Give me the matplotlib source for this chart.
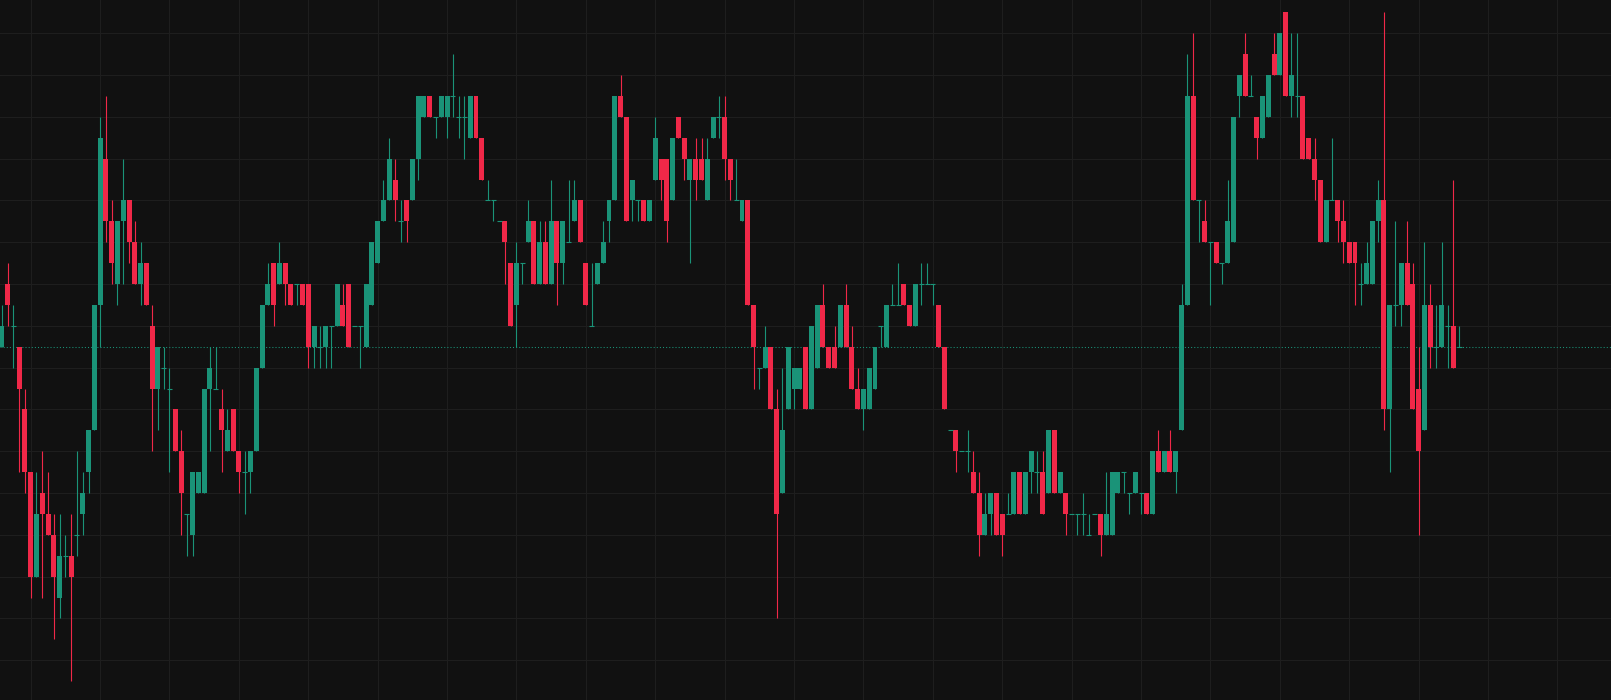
import matplotlib
matplotlib.use("Agg")
import matplotlib.pyplot as plt
import numpy as np

# candles, in price ticks (0 = the dotted last-price line)
opens = [0, 3, 1, 0, -3, -6, -11, -7, -8, -9, -12, -10, -10, -9, -8, -6, -4, 2, 9, 6,
         3, 6, 7, 5, 3, 4, 1, -2, -1, -2, -3, -5, -8, -9, -7, -7, -2, -2, -3, -5,
         -3, -5, -6, -6, -5, -1, 2, 4, 3, 4, 3, 3, 3, 3, 0, 0, 0, 1, 1, 2,
         3, 1, 1, 0, 2, 4, 6, 7, 8, 6, 7, 7, 9, 11, 12, 11, 11, 11, 12, 11,
         11, 10, 12, 10, 7, 7, 6, 6, 4, 2, 4, 5, 6, 3, 5, 3, 6, 4, 5, 6,
         7, 4, 1, 3, 4, 6, 7, 12, 11, 7, 7, 7, 6, 8, 9, 9, 7, 11, 10, 8,
         9, 9, 7, 10, 11, 11, 9, 7, 6, 7, 2, -1, -1, 0, -3, -7, -3, -2, -2, 0,
         -3, -1, 2, 0, 0, 0, 2, 0, -2, -3, -3, -2, 1, 0, 2, 2, 3, 2, 1, 3,
         3, 3, 2, 0, -4, -4, -5, -5, -6, -7, -9, -8, -7, -8, -8, -8, -6, -8, -6, -6,
         -6, -7, -4, -7, -7, -8, -8, -8, -9, -8, -8, -9, -9, -7, -6, -7, -7, -7, -7, -8,
         -5, -6, -5, -6, -4, 2, 12, 7, 6, 5, 5, 4, 4, 5, 12, 14, 12, 11, 10, 11,
         14, 13, 16, 12, 12, 12, 10, 9, 8, 5, 7, 7, 6, 5, 5, 3, 3, 3, 6, 7,
         -3, 2, 2, 4, 3, -2, -4, 2, 0, 0, 1, 1, 0]
highs = [2, 4, 2, 0, -2, -6, -6, -5, -6, -8, -8, -9, -8, -5, -6, -4, 2, 11, 12, 7,
         6, 9, 7, 6, 5, 4, 2, 0, 0, -1, -3, -4, -8, -6, -6, -2, 0, 0, -2, -3,
         -3, -5, -5, -5, -1, 2, 4, 4, 5, 4, 3, 3, 3, 3, 1, 1, 1, 1, 3, 3,
         3, 1, 1, 3, 5, 6, 8, 10, 9, 7, 7, 9, 12, 12, 12, 11, 12, 12, 14, 12,
         12, 12, 12, 10, 8, 7, 6, 6, 4, 5, 4, 7, 6, 6, 6, 8, 6, 6, 8, 8,
         7, 4, 4, 4, 6, 7, 12, 13, 11, 8, 7, 7, 7, 11, 9, 9, 10, 11, 10, 9,
         10, 10, 10, 11, 12, 12, 9, 9, 7, 7, 2, -1, 1, 0, -2, -1, 0, -1, -1, 0,
         1, 2, 3, 0, 1, 2, 3, 1, -1, -2, -1, 0, 1, 2, 3, 4, 3, 2, 3, 4,
         4, 3, 2, 0, -4, -4, -5, -4, -5, -6, -7, -7, -7, -8, -7, -6, -6, -6, -5, -5,
         -5, -4, -4, -6, -7, -8, -8, -7, -8, -8, -8, -6, -6, -6, -6, -7, -6, -7, -7, -5,
         -4, -5, -4, -5, 3, 14, 15, 7, 7, 5, 5, 4, 8, 11, 13, 15, 13, 11, 12, 13,
         15, 15, 16, 15, 15, 12, 10, 10, 8, 7, 10, 7, 7, 5, 5, 4, 5, 6, 8, 16,
         2, 6, 4, 6, 4, 0, 5, 3, 2, 5, 2, 8, 1]
lows = [0, 1, -1, -6, -7, -12, -11, -12, -9, -14, -13, -11, -16, -10, -9, -7, -4, 0, 5, 3,
        2, 3, 4, 3, 2, 2, -5, -4, -2, -6, -5, -9, -10, -10, -7, -7, -5, -2, -6, -5,
        -5, -7, -8, -7, -5, -1, 2, 1, 3, 2, 2, 2, 2, -1, -1, -1, -1, -1, 1, 1,
        0, 1, -1, 0, 2, 4, 6, 7, 6, 5, 5, 7, 8, 11, 11, 10, 11, 10, 11, 10,
        9, 10, 10, 8, 7, 6, 6, 3, 1, 0, 3, 5, 3, 3, 3, 3, 2, 3, 5, 6,
        5, 2, 1, 3, 4, 5, 7, 11, 6, 6, 6, 6, 6, 8, 7, 5, 7, 10, 8, 4,
        7, 8, 7, 10, 10, 8, 7, 7, 6, 2, -2, -2, -1, -3, -13, -7, -3, -3, -2, -3,
        -3, -1, 0, -1, -1, 0, 0, -2, -3, -4, -3, -2, 0, 0, 2, 2, 2, 1, 1, 2,
        3, 2, 0, -3, -4, -6, -5, -6, -7, -10, -9, -9, -9, -10, -8, -8, -8, -8, -7, -7,
        -8, -7, -7, -7, -9, -8, -9, -9, -9, -8, -10, -9, -9, -7, -7, -8, -7, -8, -8, -8,
        -6, -6, -6, -7, -4, 2, 7, 5, 5, 2, 4, 3, 4, 5, 11, 12, 12, 9, 10, 11,
        13, 13, 12, 11, 11, 9, 9, 7, 5, 5, 7, 5, 4, 4, 2, 2, 3, 3, 5, -4,
        -6, 1, 1, 2, -3, -9, -4, -1, -1, 0, -1, -1, 0]
closes = [1, 2, 1, -2, -6, -11, -8, -8, -9, -11, -10, -10, -11, -9, -7, -4, 2, 10, 6, 4,
          6, 7, 5, 3, 4, 2, -2, 0, -1, -2, -5, -7, -8, -6, -6, -2, -1, -2, -4, -4,
          -5, -6, -6, -5, -1, 2, 3, 2, 4, 3, 2, 3, 2, 0, 1, 0, 1, 1, 3, 1,
          0, 1, 1, 3, 5, 6, 7, 9, 7, 6, 6, 9, 12, 12, 11, 11, 12, 12, 12, 11,
          11, 12, 10, 8, 7, 7, 6, 5, 1, 4, 4, 6, 3, 5, 3, 6, 4, 6, 5, 7,
          5, 2, 1, 4, 5, 7, 12, 11, 6, 8, 7, 6, 7, 10, 8, 6, 10, 10, 9, 9,
          8, 8, 9, 11, 11, 9, 8, 7, 7, 2, 0, -1, 0, -3, -8, -4, 0, -1, -1, -3,
          1, 2, 0, -1, -1, 2, 0, -2, -3, -2, -1, 0, 1, 2, 2, 2, 2, 1, 3, 3,
          3, 3, 0, -3, -4, -5, -5, -5, -7, -9, -8, -7, -9, -9, -8, -6, -8, -6, -5, -6,
          -8, -4, -7, -6, -8, -8, -8, -8, -9, -8, -9, -8, -6, -6, -6, -7, -6, -7, -8, -5,
          -6, -5, -6, -5, 2, 12, 7, 7, 5, 5, 4, 4, 6, 11, 13, 12, 12, 10, 12, 13,
          13, 15, 12, 13, 12, 9, 9, 8, 5, 7, 7, 6, 5, 4, 4, 3, 4, 6, 7, -3,
          2, 2, 4, 2, -3, -5, 2, 0, 0, 2, 1, -1, 0]
last_price = closes[-1]

up_color = "#1a9378"
down_color = "#f02848"
bg_color = "#111111"
grid_color = "#1e1e1e"

o = np.array(opens)
h = np.array(highs)
l = np.array(lows)
c = np.array(closes)
x = np.arange(len(o))
up = c >= o
colors = np.where(up, up_color, down_color)

fig = plt.figure(figsize=(16.11, 7.0), dpi=100)
fig.patch.set_facecolor(bg_color)
ax = fig.add_axes([0, 0, 1, 1])
ax.set_facecolor(bg_color)

# grid every 12 bars / every 2 ticks, no labels
ax.set_xticks(np.arange(5, 280, 12))
ax.set_yticks(np.arange(-15, 17, 2))
ax.grid(True, color=grid_color, linewidth=0.72)
ax.set_axisbelow(True)
ax.tick_params(length=0, labelbottom=False, labelleft=False)
for s in ax.spines.values():
    s.set_visible(False)

# last price line
ax.axhline(last_price, color=up_color, linewidth=0.75, linestyle=(0, (1, 2)), zorder=1)

# wicks
ax.vlines(x, l, h, colors=colors, linewidth=0.8, zorder=2)
# bodies
body = np.abs(c - o)
has_body = body > 0
ax.bar(x[has_body], body[has_body], bottom=np.minimum(o, c)[has_body], width=0.86,
       color=colors[has_body], linewidth=0, zorder=3)
# flat candles
ax.hlines(o[~has_body], x[~has_body] - 0.43, x[~has_body] + 0.43,
          colors=colors[~has_body], linewidth=0.8, zorder=3)

ax.set_xlim(-0.31, 278.27)
ax.set_ylim(-16.9, 16.59)

plt.savefig("out.png", dpi=100, facecolor=bg_color)
